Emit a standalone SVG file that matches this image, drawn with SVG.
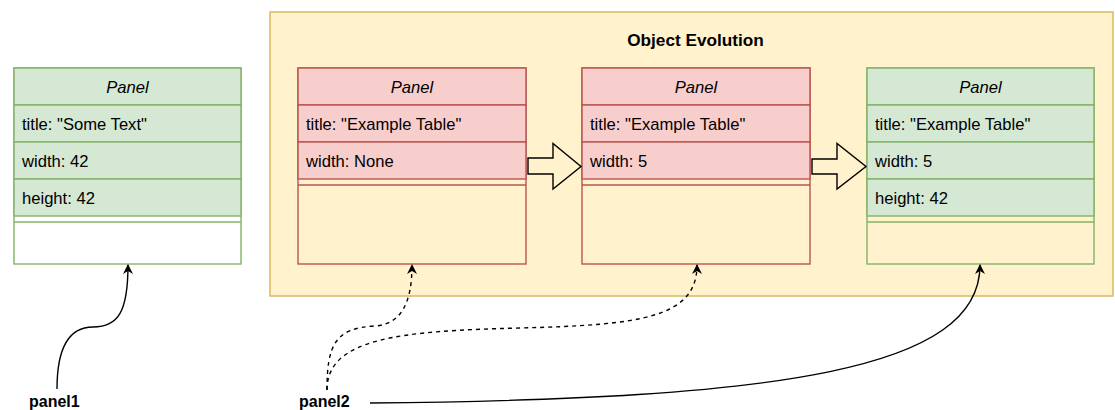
<svg xmlns="http://www.w3.org/2000/svg" width="1115" height="410" viewBox="0 0 1115 410">
<defs>
<style>
text{font-family:"Liberation Sans",Arial,sans-serif;font-size:16.6px;fill:#000}
.hd{font-style:italic;text-anchor:middle}
.b{font-weight:bold}
.t{font-size:17.2px}
.lb{font-size:16px}
.g{fill:#d5e8d4;stroke:#82b366;stroke-width:1.4}
.gl{stroke:#82b366;stroke-width:1.4;fill:none}
.r{fill:#f8cecc;stroke:#b85450;stroke-width:1.4}
.rl{stroke:#b85450;stroke-width:1.4;fill:none}
.blk{fill:#fff2cc;stroke:#000;stroke-width:1.4}
.c{fill:none;stroke:#000;stroke-width:1.4}
.d{stroke-dasharray:4 4}
</style>
<marker id="ah" viewBox="0 0 10 10" refX="9" refY="5" markerWidth="10" markerHeight="10" markerUnits="userSpaceOnUse" orient="auto">
<path d="M0,0 L10,5 L0,10 L3,5 Z" fill="#000"/>
</marker>
</defs>

<g id="container">
<rect x="270" y="12" width="843" height="284" fill="#fff2cc" stroke="#d6b656" stroke-width="1.4"/>
<text x="695.5" y="46" class="b t" text-anchor="middle">Object Evolution</text>
</g>

<g id="panel1">
<rect x="14" y="68" width="227" height="196" fill="#fff" class="gl"/>
<rect x="14" y="68" width="227" height="37" class="g"/>
<rect x="14" y="105" width="227" height="37" class="g"/>
<rect x="14" y="142" width="227" height="37" class="g"/>
<rect x="14" y="179" width="227" height="37" class="g"/>
<line x1="14" y1="222" x2="241" y2="222" class="gl"/>
<text x="127.5" y="92.5" class="hd">Panel</text>
<text x="22" y="129.5">title: "Some Text"</text>
<text x="22" y="166.5">width: 42</text>
<text x="22" y="203.5">height: 42</text>
</g>

<g id="panelA">
<rect x="298" y="68" width="228" height="196" class="rl"/>
<rect x="298" y="68" width="228" height="37" class="r"/>
<rect x="298" y="105" width="228" height="37" class="r"/>
<rect x="298" y="142" width="228" height="37" class="r"/>
<line x1="298" y1="185" x2="526" y2="185" class="rl"/>
<text x="412" y="92.5" class="hd">Panel</text>
<text x="306" y="129.5">title: "Example Table"</text>
<text x="306" y="166.5">width: None</text>
</g>

<g id="panelB">
<rect x="582" y="68" width="228" height="196" class="rl"/>
<rect x="582" y="68" width="228" height="37" class="r"/>
<rect x="582" y="105" width="228" height="37" class="r"/>
<rect x="582" y="142" width="228" height="37" class="r"/>
<line x1="582" y1="185" x2="810" y2="185" class="rl"/>
<text x="696" y="92.5" class="hd">Panel</text>
<text x="590" y="129.5">title: "Example Table"</text>
<text x="590" y="166.5">width: 5</text>
</g>

<g id="panelC">
<rect x="867" y="68" width="227" height="196" class="gl"/>
<rect x="867" y="68" width="227" height="37" class="g"/>
<rect x="867" y="105" width="227" height="37" class="g"/>
<rect x="867" y="142" width="227" height="37" class="g"/>
<rect x="867" y="179" width="227" height="37" class="g"/>
<line x1="867" y1="222" x2="1094" y2="222" class="gl"/>
<text x="980.5" y="92.5" class="hd">Panel</text>
<text x="875" y="129.5">title: "Example Table"</text>
<text x="875" y="166.5">width: 5</text>
<text x="875" y="203.5">height: 42</text>
</g>

<g id="label-panel1"><text x="29" y="407" class="b lb">panel1</text></g>
<g id="label-panel2"><text x="299" y="407" class="b lb">panel2</text></g>

<g id="connectors">
<polygon class="blk" points="528,158 553,158 553,143.5 581,166.5 553,189 553,174 528,174"/>
<polygon class="blk" points="812,159 837,159 837,143.5 866,166.5 837,189 837,174 812,174"/>
<path class="c" marker-end="url(#ah)" d="M57,389 C57,345 70,327 93,327 C118,327 128,312 128,265"/>
<path class="c d" marker-end="url(#ah)" d="M327,390 C327,345 335,328 375,326 C400,324 412,305 412,265"/>
<path class="c d" marker-end="url(#ah)" d="M327,390 C327,338 400,331 520,328 C640,325 697,318 697,265"/>
<path class="c" marker-end="url(#ah)" d="M370,403 C780,399 980,370 980,265"/>
</g>
</svg>
